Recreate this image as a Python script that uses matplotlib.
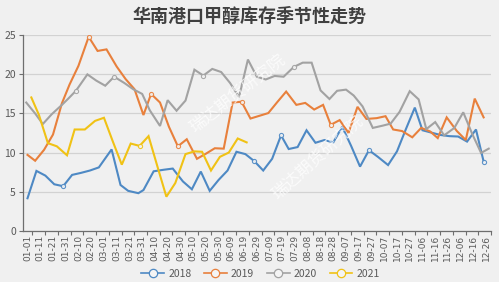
import matplotlib
matplotlib.use('Agg')
import matplotlib.pyplot as plt
from matplotlib.lines import Line2D

plt.rcParams['font.family'] = ['Noto Sans CJK SC', 'DejaVu Sans']

title = "华南港口甲醇库存季节性走势"
tick_labels = ["01-01", "01-11", "01-21", "01-31", "02-10", "02-20", "03-01", "03-11",
               "03-21", "03-31", "04-10", "04-20", "04-30", "05-10", "05-20", "05-30",
               "06-09", "06-19", "06-29", "07-09", "07-19", "07-29", "08-08", "08-18",
               "08-28", "09-07", "09-17", "09-27", "10-07", "10-17", "10-27", "11-06",
               "11-16", "11-26", "12-06", "12-16", "12-26"]
tick_days = [0, 10, 20, 30, 40, 50, 60, 70, 80, 90, 100, 110, 120, 130, 140, 150,
             160, 170, 180, 190, 200, 210, 220, 230, 240, 250, 260, 270, 280, 290,
             300, 310, 320, 330, 340, 350, 360]

# day offsets from 01-01 of each observation
days_2018 = [0, 7, 14, 21, 28, 35, 42, 49, 56, 66, 73, 79, 87, 91, 99, 107, 114, 122,
             129, 136, 143, 150, 157, 164, 171, 178, 185, 192, 199, 205, 212, 219, 226,
             233, 240, 247, 254, 261, 268, 275, 283, 290, 297, 304, 310, 317, 324, 331,
             338, 345, 352, 358]
v_2018 = [4.15, 7.65, 7.05, 5.94, 5.69, 7.14, 7.4, 7.7, 8.1, 10.4, 5.85, 5.1, 4.8, 5.2,
          7.6, 7.8, 7.95, 6.3, 5.3, 7.57, 5.1, 6.5, 7.7, 10.1, 9.8, 8.9, 7.7, 9.2, 12.2,
          10.45, 10.7, 12.85, 11.25, 11.6, 11.3, 13.3, 10.85, 8.2, 10.3, 9.45, 8.4, 10.15,
          13.0, 15.75, 12.85, 12.55, 12.25, 12.1, 12.05, 11.4, 12.95, 8.85]

days_2019 = [0, 6, 13, 20, 27, 33, 40, 48, 55, 62, 70, 77, 84, 91, 97, 104, 111, 118,
             125, 133, 140, 147, 154, 161, 168, 175, 182, 189, 196, 203, 211, 218, 225,
             232, 238, 245, 252, 259, 266, 274, 281, 287, 294, 302, 309, 316, 322, 329,
             337, 344, 351, 358]
v_2019 = [9.7, 8.95, 10.35, 12.3, 16.3, 18.7, 21.1, 24.8, 23.0, 23.2, 21.0, 19.4, 18.1,
          14.8, 17.5, 16.4, 13.3, 10.8, 11.7, 9.2, 9.85, 10.55, 10.5, 16.4, 16.5, 14.35,
          14.7, 15.05, 16.45, 17.8, 16.1, 16.35, 15.5, 16.1, 13.55, 14.15, 12.5, 15.85,
          14.3, 14.4, 14.65, 12.95, 12.75, 11.95, 13.15, 12.7, 11.85, 14.5, 12.75, 11.6,
          16.9, 14.5]

days_2020 = [-1, 6, 12, 19, 27, 32, 38, 47, 54, 61, 68, 76, 83, 90, 96, 104, 110, 117,
             124, 131, 138, 145, 152, 159, 166, 173, 180, 187, 194, 201, 209, 216, 223,
             230, 237, 243, 250, 256, 263, 271, 279, 285, 292, 300, 307, 313, 320, 327,
             335, 342, 349, 356, 362]
v_2020 = [16.4, 15.0, 13.65, 14.9, 16.1, 16.9, 17.9, 20.0, 19.2, 18.55, 19.7, 18.9, 18.1,
          17.5, 15.4, 13.4, 16.7, 15.35, 16.65, 20.6, 19.85, 20.7, 20.3, 18.9, 17.1, 21.9,
          19.7, 19.35, 19.8, 19.7, 20.95, 21.5, 21.5, 17.95, 16.85, 17.9, 18.05, 17.3,
          15.9, 13.15, 13.45, 13.7, 15.2, 17.85, 16.8, 13.0, 13.9, 12.2, 13.15, 15.15,
          12.4, 9.95, 10.5]

days_2021 = [3, 9, 16, 23, 31, 37, 45, 53, 60, 67, 74, 81, 88, 95, 102, 109, 116, 124,
             131, 137, 144, 151, 158, 165, 172]
v_2021 = [17.05, 14.8, 11.2, 10.8, 9.65, 12.95, 12.95, 14.05, 14.45, 11.4, 8.45, 11.15,
          10.85, 12.1, 8.2, 4.35, 6.1, 9.8, 10.15, 10.1, 7.7, 9.45, 10.0, 11.8, 11.3]

series = [
    ("2018", days_2018, v_2018, "#4E89C4", [4, 25, 28, 38, 51]),
    ("2019", days_2019, v_2019, "#E8803C", [7, 14, 17, 24, 34]),
    ("2020", days_2020, v_2020, "#A2A2A2", [6, 10, 20, 30]),
    ("2021", days_2021, v_2021, "#F0C215", [12]),
]

bg = "#F0F0F0"
fig = plt.figure(figsize=(4.99, 2.82), dpi=100, facecolor=bg)
ax = fig.add_axes([0.0455, 0.1819, 0.9385, 0.6929])
ax.set_facecolor(bg)

ax.set_xlim(-3.77, 363.8)
ax.set_ylim(0, 25)
ax.set_yticks([0, 5, 10, 15, 20, 25])
ax.yaxis.grid(True, color="#D2D2D2", lw=0.9)
ax.set_axisbelow(True)

for s in ["top", "right"]:
    ax.spines[s].set_visible(False)
for s in ["left", "bottom"]:
    ax.spines[s].set_color("#6E6E6E")
    ax.spines[s].set_linewidth(0.9)

ax.set_xticks(tick_days)
ax.set_xticklabels(tick_labels, rotation=90, fontsize=6.5, color="#595959",
                   family="DejaVu Sans")
ax.tick_params(axis="x", which="major", length=0, pad=3)
ax.set_xticks([3.8 + 10 * k for k in range(37)], minor=True)
ax.tick_params(axis="x", which="minor", length=3, color="#6E6E6E", width=0.8)
ax.tick_params(axis="y", length=3, color="#6E6E6E", width=0.8, labelsize=7.5,
               labelcolor="#595959", pad=2)

handles = []
for name, d, v, c, mk in series:
    ax.plot(d, v, color=c, lw=1.5, zorder=3, solid_joinstyle="miter")
    ax.plot([d[i] for i in mk], [v[i] for i in mk], linestyle="none", marker="o",
            ms=3, mfc="#F4F4F4", mec=c, mew=0.8, zorder=4, alpha=0.9)
    handles.append(Line2D([0], [0], color=c, lw=1.2, marker="o", ms=6,
                          mfc="#F4F4F4", mec=c, mew=0.9, label=name))

# watermarks
wm = "瑞达期货研究院"
ax.text(165, 17.5, wm, transform=ax.transData if False else ax.transData,
        fontsize=12, color="white", alpha=0.75, rotation=38, ha="center",
        va="center", zorder=5)
fig.text(318 / 499, 1 - 158 / 282, wm, fontsize=12, color="white", alpha=0.75,
         rotation=42, ha="center", va="center", zorder=5)

fig.text(0.5, 1 - 16 / 282, title, ha="center", va="center", fontsize=13,
         fontweight="bold", color="#404040")

fig.legend(handles=handles, loc="center", bbox_to_anchor=(0.522, 1 - 274 / 282),
           ncol=4, frameon=False, fontsize=7.5, handlelength=2.2,
           columnspacing=1.2, handletextpad=0.4, labelcolor="#595959")

fig.savefig("out.png", dpi=100, facecolor=bg)
